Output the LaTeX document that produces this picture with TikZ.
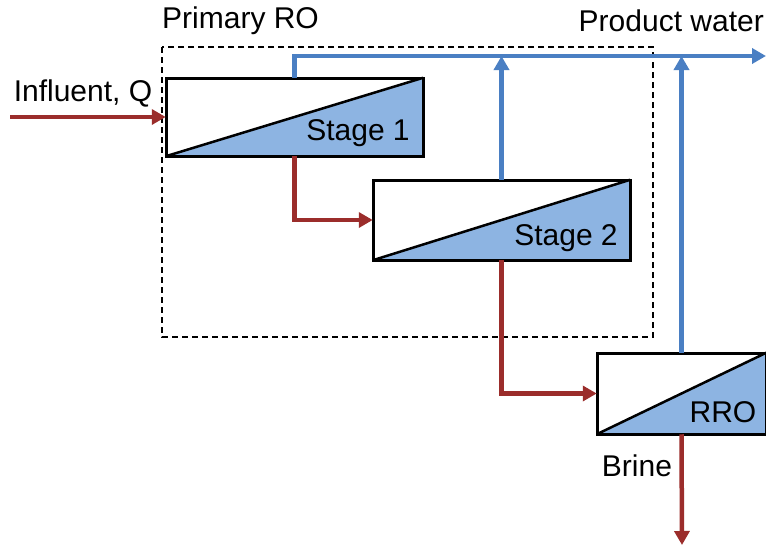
\documentclass[tikz,border=0pt]{standalone}
\usepackage{fontspec}
\setmainfont{Liberation Sans}
\usetikzlibrary{arrows.meta}
\definecolor{rored}{HTML}{9B2D2B}
\definecolor{roblue}{HTML}{4A7FC3}
\definecolor{rofill}{HTML}{8DB4E2}
\tikzset{
  unitbox/.style={draw=black, line width=2.5pt, minimum width=#1, inner sep=0pt},
  redflow/.style={draw=rored, line width=4.5pt, -{Triangle[length=14pt,width=15pt]}},
  blueflow/.style={draw=roblue, line width=4.5pt, -{Triangle[length=14pt,width=15pt]}},
  lbl/.style={font=\fontsize{30}{34}\selectfont, inner sep=0pt},
}
\newcommand{\membrane}[1]{%
  \fill[rofill] (#1.south west) -- (#1.north east) -- (#1.south east) -- cycle;
  \draw[line width=2.5pt] (#1.south west) -- (#1.north east);
  \draw[line width=2.5pt] (#1.south west) rectangle (#1.north east);
}
\begin{document}
\begin{tikzpicture}[x=1pt,y=-1pt]
\useasboundingbox (0,0) rectangle (766,546);
% dashed primary RO box
\draw[black, line width=2pt, dash pattern=on 6pt off 4pt] (162,47) rectangle (653,337);
\node[lbl, anchor=west] (prim) at (162,21) {Primary RO};
\node[lbl, anchor=east] (prod) at (764,21) {Product water};
\node[lbl] (infl) at (83,93) {Influent, Q};
\node[lbl] (brine) at (637,466) {Brine};
% units
\node[unitbox=255pt, minimum height=76pt] (s1) at (294.5,117) {};
\node[unitbox=255pt, minimum height=78pt] (s2) at (501.5,220) {};
\node[unitbox=167pt, minimum height=79pt] (rro) at (681.5,393.5) {};
\membrane{s1}
\membrane{s2}
\membrane{rro}
\node[lbl] (t1) at (358,133) {Stage 1};
\node[lbl] (t2) at (566,238) {Stage 2};
\node[lbl] (t3) at (723,412) {RRO};
% coordinates
\coordinate (inf) at (10,117);
\coordinate (pw) at (766,56);
\coordinate (bout) at (682,545);
% red flows
\draw[redflow] (inf) -- (s1.west);
\draw[redflow] (s1.south) |- (s2.west);
\draw[redflow] (s2.south) |- (rro.west);
\draw[redflow] (rro.south) -- (bout);
% blue flows
\draw[blueflow] (s1.north) |- (pw);
\draw[blueflow] (s2.north) -- (s2.north |- pw);
\draw[blueflow] (rro.north) -- (rro.north |- pw);
\end{tikzpicture}
\end{document}
